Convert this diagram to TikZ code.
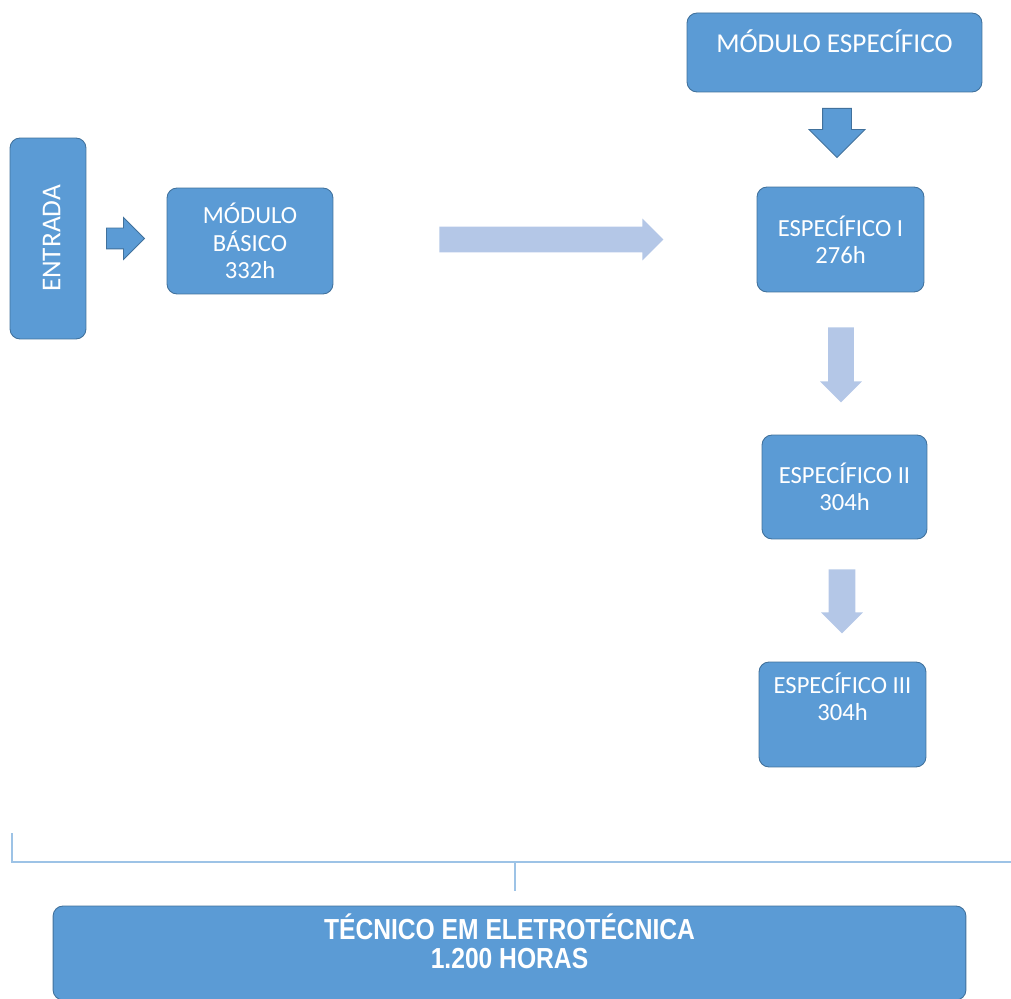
\documentclass[tikz,border=0pt]{standalone}
\usepackage{fontspec}
\setmainfont{Carlito}
\newfontfamily\narrowfont[FakeStretch=0.85]{Liberation Sans}
\usetikzlibrary{shapes.arrows}
\definecolor{boxblue}{HTML}{5B9BD5}
\definecolor{boxedge}{HTML}{41719C}
\definecolor{paleblue}{HTML}{B4C7E7}
\definecolor{bracketblue}{HTML}{9DC3E6}

\begin{document}
\begin{tikzpicture}[x=0.02cm, y=-0.02cm,
	modbox/.style={draw=boxedge, line width=0.5pt, fill=boxblue, rounded corners=0.2cm, text=white, align=center, inner sep=0pt, font=\fontsize{14}{15.5}\selectfont},
	darkarrow/.style={shape=single arrow, fill=boxblue, draw=boxedge, line width=0.5pt, single arrow tip angle=90, minimum width=0pt, anchor=tail},
	palearrow/.style={shape=single arrow, fill=paleblue, single arrow tip angle=90, minimum width=0pt, anchor=tail},
	bracket/.style={draw=bracketblue, line width=1.2pt}]
				\useasboundingbox (0,0) rectangle (1011,999);
				% boxes
				\node[modbox, rotate=90, minimum width=4.02cm, minimum height=1.52cm, font=\fontsize{15.5}{17}\selectfont, text height=14pt, text depth=0pt] (entrada) at (48,238.5) {ENTRADA};
				\node[modbox, minimum width=3.32cm, minimum height=2.12cm] (basico) at (250,241) {MÓDULO\\BÁSICO\\332h};
				\node[modbox, minimum width=5.9cm, minimum height=1.58cm, font=\fontsize{15.5}{17}\selectfont, text height=12pt, text depth=12pt] (modesp) at (834.5,52.5) {MÓDULO ESPECÍFICO};
				\node[modbox, minimum width=3.34cm, minimum height=2.1cm] (esp1) at (840.5,239.5) {ESPECÍFICO I\\276h};
				\node[modbox, minimum width=3.3cm, minimum height=2.08cm] (esp2) at (844.5,487) {ESPECÍFICO II\\304h};
				\node[modbox, minimum width=3.34cm, minimum height=2.1cm, text height=25pt, text depth=18pt] (esp3) at (842.5,714.5) {ESPECÍFICO III\\304h};
				\node[modbox, minimum width=18.26cm, minimum height=1.88cm, font=\narrowfont\bfseries\fontsize{16.5}{16.5}\selectfont, text depth=13.5pt] (total) at (509.5,953) {TÉCNICO EM ELETROTÉCNICA\\1.200 HORAS};
				% arrows
				\node[darkarrow, inner sep=0.2cm, single arrow head extend=0.21cm, minimum height=0.76cm] (toBasico) at (106,238.5) {};
				\node[palearrow, inner sep=0.25cm, single arrow head extend=0.16cm, minimum height=4.48cm] (toEsp) at (439,239.5) {};
				\node[darkarrow, shape border rotate=270, inner sep=0.28cm, single arrow head extend=0.27cm, minimum height=0.98cm] (toEsp1) at (837,108) {};
				\node[palearrow, shape border rotate=270, inner sep=0.25cm, single arrow head extend=0.16cm, minimum height=1.5cm] (toEsp2) at (841,327) {};
				\node[palearrow, shape border rotate=270, inner sep=0.26cm, single arrow head extend=0.15cm, minimum height=1.28cm] (toEsp3) at (842,569) {};
				% bracket
				\coordinate (brL) at (12,833);
				\coordinate (brR) at (1011,862);
				\coordinate (brM) at (515,862);
				\coordinate (brT) at (515,891);
				\draw[bracket] (brL) |- (brR);
				\draw[bracket] (brM) -- (brT);
\end{tikzpicture}
\end{document}
